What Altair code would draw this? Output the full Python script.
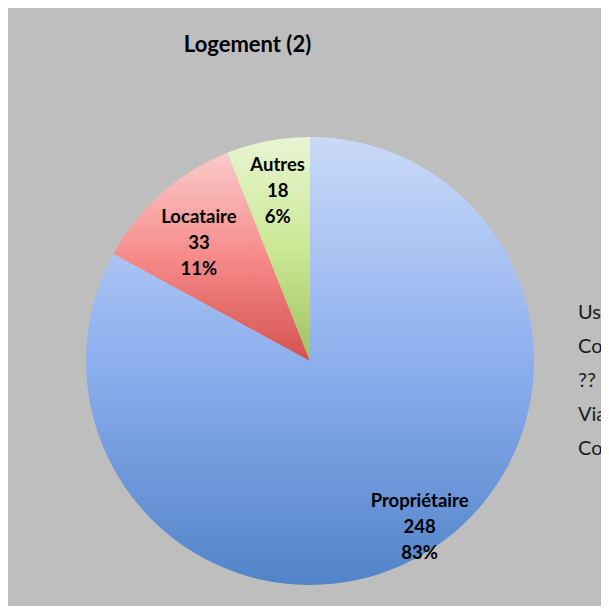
import altair as alt
import pandas as pd

# ---- data ----
categories = ["Propriétaire", "Locataire", "Autres"]
counts = [248, 33, 18]
order = [0, 1, 2]
legend_fragments = ["Us", "Co", "??", "Via", "Co"]

df = pd.DataFrame({"category": categories, "count": counts, "order": order})

# ---- styles ----
BG = "#BEBEBE"
FONT = "Lato"
CX, CY, R = 302, 293, 224
LH = 26

gradients = {
    "Propriétaire": ["#CADAF7", "#8DAFEE", "#5283C9"],
    "Locataire": ["#FACBCB", "#F68B8A", "#D4524F"],
    "Autres": ["#E9F5D4", "#CBE893", "#A0C25E"],
}
# (radius, dx, dy) of each label block
label_pos = {
    "Propriétaire": (199, 8, -LH - 5),
    "Locataire": (163, -3, -LH + 4),
    "Autres": (172, 0, -LH - 1),
}


def grad(cols):
    return alt.LinearGradient(
        gradient="linear",
        stops=[
            alt.GradientStop(offset=0, color=cols[0]),
            alt.GradientStop(offset=0.5, color=cols[1]),
            alt.GradientStop(offset=1, color=cols[2]),
        ],
        x1=0, x2=0, y1=0, y2=1,
    )


base = (
    alt.Chart(df)
    .transform_joinaggregate(total="sum(count)")
    .transform_window(cum="sum(count)", sort=[alt.SortField("order")])
    .transform_calculate(
        s="(datum.cum - datum.count) / datum.total",
        e="datum.cum / datum.total",
        m="(datum.cum - datum.count / 2) / datum.total",
        lbl="[datum.category, '' + datum.count, format(datum.count / datum.total, '.0%')]",
    )
)

theta_scale = alt.Scale(domain=[0, 1], range=[0, 6.283185307179586])

layers = []
for cat in categories:
    layers.append(
        base.transform_filter(alt.datum.category == cat)
        .mark_arc(fill=grad(gradients[cat]), x=CX, y=CY, radius=R)
        .encode(
            theta=alt.Theta("s:Q", scale=theta_scale, stack=None),
            theta2="e:Q",
        )
    )

for cat in categories:
    r, dx, dy = label_pos[cat]
    layers.append(
        base.transform_filter(alt.datum.category == cat)
        .mark_text(
            x=CX, y=CY, radius=r, dx=dx, dy=dy, font=FONT, fontWeight="bold",
            fontSize=18.5, lineHeight=LH, align="center", baseline="middle", color="black",
        )
        .encode(theta=alt.Theta("m:Q", scale=theta_scale, stack=None), text="lbl:N")
    )

legend_text = (
    alt.Chart(pd.DataFrame({"k": [0]}))
    .mark_text(
        font=FONT, fontSize=20, lineHeight=34, align="left", baseline="middle",
        color="#1A1A1A",
    )
    .encode(
        x=alt.value(570),
        y=alt.value(245),
        text=alt.value(legend_fragments),
    )
)
layers.append(legend_text)

chart = (
    alt.layer(*layers)
    .properties(
        width=593,
        height=538,
        padding={"left": 0, "top": 60, "right": 0, "bottom": 0},
        autosize=alt.AutoSizeParams(type="none"),
        background=BG,
        title=alt.Title(
            "Logement (2)", fontSize=22, font=FONT, fontWeight="bold", color="black",
            anchor="middle", dx=-57, dy=8, offset=2, baseline="alphabetic",
        ),
    )
    .configure_view(stroke=None, fill=None)
)

chart.save("out.html", embed_options={"renderer": "svg", "actions": False})
